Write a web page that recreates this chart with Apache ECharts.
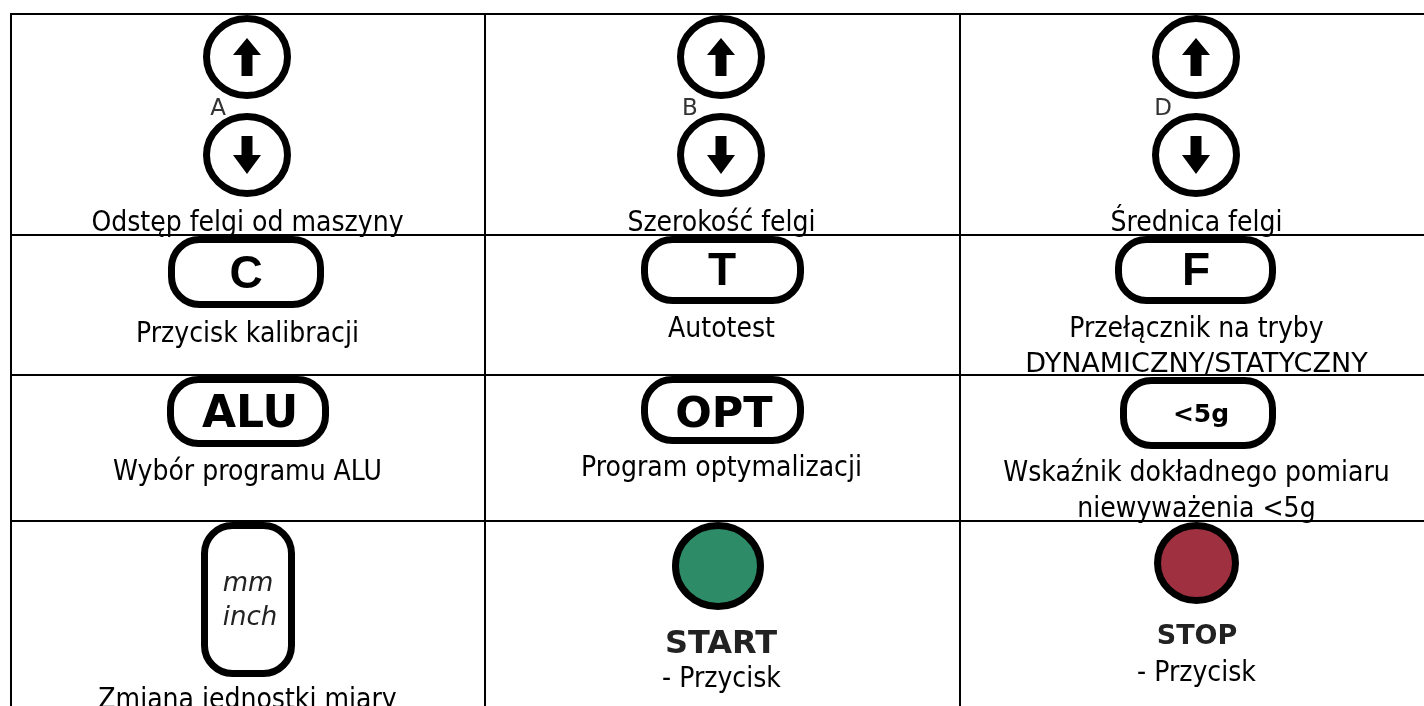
<!DOCTYPE html>
<html>
<head>
<meta charset="utf-8">
<style>
    html, body { margin: 0; padding: 0; background: #fff; }
    #main { width: 1424px; height: 706px; }
</style>
</head>
<body>
<div id="main"></div>
<script src="https://cdn.jsdelivr.net/npm/echarts@6/dist/echarts.min.js"></script>
<script>
// texts of the table, cell by cell
const captions = [
    ['Odstęp felgi od maszyny'], ['Szerokość felgi'], ['Średnica felgi'],
    ['Przycisk kalibracji'], ['Autotest'], ['Przełącznik na tryby', 'DYNAMICZNY/STATYCZNY'],
    ['Wybór programu ALU'], ['Program optymalizacji'], ['Wskaźnik dokładnego pomiaru', 'niewyważenia <5g'],
    ['Zmiana jednostki miary'], ['- Przycisk'], ['- Przycisk']
]
const buttonKinds = [
    'updown', 'updown', 'updown',
    'pill', 'pill', 'pill',
    'pill', 'pill', 'pill',
    'tall', 'lamp', 'lamp'
]
const buttonLabels = [
    ['A'], ['B'], ['D'],
    ['C'], ['T'], ['F'],
    ['ALU'], ['OPT'], ['<5g'],
    ['mm', 'inch'], ['START'], ['STOP']
]
const lampColors = { 'START': '#2e8b67', 'STOP': '#9e3040' }

// ---- layout, in screen pixels ----
const colLines = [11, 485, 960]
const rowLines = [14, 235, 375, 521]
const colCenter = [247.5, 721.5, 1196.5]
const captionFont = '28px "DejaVu Sans Condensed", "DejaVu Sans"'
const capsFont = '27px "DejaVu Sans"'
const captionBase = [[227], [227], [227], [338], [333], [333, 368], [476], [472], [477, 513], [704], [683], [677]]
const captionShift = 7
// x0, y0, x1, y1 outer box of the button
const boxes = [
    null, null, null,
    [168, 236, 324, 308], [641, 236, 804, 304], [1115, 236, 1276, 304],
    [167, 376, 329, 447], [641, 376, 804, 444], [1120, 377, 1276, 449],
    [201, 522, 295, 677],
    [672, 522, 764, 610], [1154, 522, 1239, 604]
]
const updownLetterX = [218, 690, 1163]
const labelStyle = {
    3: { font: 'bold 46px "Liberation Sans"', base: 292, x: 246 },
    4: { font: 'bold 46px "Liberation Sans"', base: 289, x: 722 },
    5: { font: 'bold 46px "Liberation Sans"', base: 289, x: 1196 },
    6: { font: 'bold 44px "DejaVu Sans"', base: 431, x: 250 },
    7: { font: 'bold 43px "DejaVu Sans"', base: 431, x: 724 },
    8: { font: 'bold 25px "DejaVu Sans"', base: 424, x: 1201 }
}
const lampText = {
    10: { font: 'bold 32px "DejaVu Sans"', base: 656, x: 721 },
    11: { font: 'bold 27px "DejaVu Sans"', base: 647, x: 1197 }
}

let chart = echarts.init(document.getElementById('main'), null, { renderer: 'canvas' })

// text with its alphabetic baseline at y
function textEl(api, x, y, text, font, fill) {
    let p = api.coord([x, y])
    let size = parseFloat(font.match(/([\d.]+)px/)[1])
    return {
        type: 'text',
        style: {
            x: p[0], y: p[1] - size * 0.36, text: text, font: font, fill: fill || '#000',
            textAlign: 'center', textVerticalAlign: 'middle'
        }
    }
}

function ringEl(api, cx, cy, rx, ry, fill) {
    let p = api.coord([cx, cy])
    return {
        type: 'ellipse',
        shape: { cx: p[0], cy: p[1], rx: rx - 3.5, ry: ry - 3.5 },
        style: { fill: fill || '#fff', stroke: '#000', lineWidth: 7 }
    }
}

function arrowEl(api, cx, tipY, neckY, endY) {
    let pts = [
        [cx, tipY], [cx + 14, neckY], [cx + 5.5, neckY], [cx + 5.5, endY],
        [cx - 5.5, endY], [cx - 5.5, neckY], [cx - 14, neckY]
    ]
    return { type: 'polygon', shape: { points: pts.map(q => api.coord(q)) }, style: { fill: '#000' } }
}

function boxEl(api, b, r) {
    let p0 = api.coord([b[0], b[1]])
    let p1 = api.coord([b[2], b[3]])
    return {
        type: 'rect',
        shape: { x: p0[0] + 3.5, y: p0[1] + 3.5, width: p1[0] - p0[0] - 7, height: p1[1] - p0[1] - 7, r: r },
        style: { fill: '#fff', stroke: '#000', lineWidth: 7 }
    }
}

function renderCell(params, api) {
    let i = params.dataIndex
    let cx = colCenter[i % 3]
    let kind = buttonKinds[i]
    let labels = buttonLabels[i]
    let kids = []

    if (kind == 'updown') {
        kids.push(ringEl(api, cx - 0.5, 57, 44, 42))
        kids.push(arrowEl(api, cx - 0.5, 38, 55, 76))
        kids.push(ringEl(api, cx - 0.5, 155, 44, 42))
        kids.push(arrowEl(api, cx - 0.5, 174, 155, 136))
        kids.push(textEl(api, updownLetterX[i], 117, labels[0], '23px "DejaVu Sans"', '#333'))
    }
    if (kind == 'pill') {
        kids.push(boxEl(api, boxes[i], 28))
        let s = labelStyle[i]
        kids.push(textEl(api, s.x, s.base, labels[0], s.font))
    }
    if (kind == 'tall') {
        kids.push(boxEl(api, boxes[i], 28))
        kids.push(textEl(api, 248, 594, labels[0], 'italic 26px "DejaVu Sans"', '#222'))
        kids.push(textEl(api, 250, 628, labels[1], 'italic 26px "DejaVu Sans"', '#222'))
    }
    if (kind == 'lamp') {
        let b = boxes[i]
        let s = lampText[i]
        kids.push(ringEl(api, (b[0] + b[2]) / 2, (b[1] + b[3]) / 2, (b[2] - b[0]) / 2, (b[3] - b[1]) / 2, lampColors[labels[0]]))
        kids.push(textEl(api, s.x, s.base, labels[0], s.font, '#222'))
    }

    captions[i].forEach(function (line, k) {
        // the all-caps line runs wider than the condensed face
        let font = line == line.toUpperCase() ? capsFont : captionFont
        kids.push(textEl(api, cx, captionBase[i][k] + captionShift, line, font))
    })
    return { type: 'group', children: kids }
}

function renderLines(params, api) {
    let kids = []
    colLines.forEach(function (x) {
        let a = api.coord([x, 14]), b = api.coord([x, 706])
        kids.push({ type: 'line', shape: { x1: a[0], y1: a[1], x2: b[0], y2: b[1] }, style: { stroke: '#000', lineWidth: 2 } })
    })
    rowLines.forEach(function (y) {
        let a = api.coord([10, y]), b = api.coord([1424, y])
        kids.push({ type: 'line', shape: { x1: a[0], y1: a[1], x2: b[0], y2: b[1] }, style: { stroke: '#000', lineWidth: 2 } })
    })
    return { type: 'group', children: kids }
}

let option = {
    animation: false,
    backgroundColor: '#fff',
    grid: { left: 0, right: 0, top: 0, bottom: 0 },
    xAxis: { type: 'value', min: 0, max: 1424, show: false },
    yAxis: { type: 'value', min: 0, max: 706, inverse: true, show: false },
    series: [
        { type: 'custom', clip: false, silent: true, renderItem: renderLines, data: [[0, 0]], encode: { x: 0, y: 1 }, z: 1 },
        { type: 'custom', clip: false, silent: true, renderItem: renderCell, data: captions.map((c, i) => [i % 3, Math.floor(i / 3)]), encode: { x: 0, y: 1 }, z: 2 }
    ]
}
chart.setOption(option)
</script>
</body>
</html>
